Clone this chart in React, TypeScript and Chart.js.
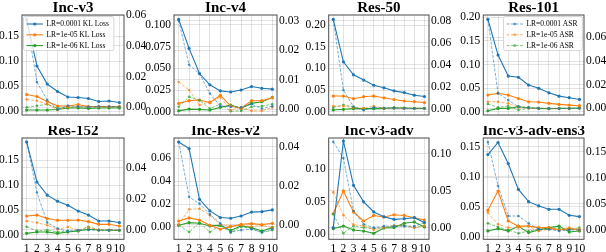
import React, { useEffect, useRef } from 'react';
import { Chart, registerables } from 'chart.js';

Chart.register(...registerables);
const SERIF = "'Liberation Serif', 'Times New Roman', Times, serif";
Chart.defaults.font.family = SERIF;
Chart.defaults.font.size = 11;
Chart.defaults.color = '#000';

// ---------- data ----------
const steps = [1, 2, 3, 4, 5, 6, 7, 8, 9, 10];
const lrNames = ['LR=0.0001', 'LR=1e-05', 'LR=1e-06'];
const titles = ['Inc-v3', 'Inc-v4', 'Res-50', 'Res-101', 'Res-152', 'Inc-Res-v2', 'Inc-v3-adv', 'Inc-v3-adv-ens3'];

// Inc-v3
const incV3KL1e4 = [0.183, 0.090, 0.054, 0.039, 0.028, 0.027, 0.025, 0.019, 0.020, 0.017];
const incV3KL1e5 = [0.033, 0.029, 0.019, 0.010, 0.010, 0.013, 0.009, 0.009, 0.009, 0.009];
const incV3KL1e6 = [0.002, 0.002, 0.002, 0.003, 0.006, 0.006, 0.005, 0.006, 0.006, 0.006];
const incV3ASR1e4 = [0.057, 0.0165, 0.0048, -0.0015, 0.001, 0.0005, 0.0003, 0.0005, 0.0005, 0.0003];
const incV3ASR1e5 = [0.0052, 0.0043, 0.002, -0.0015, 0.0, 0.0005, 0.0003, 0.0003, 0.0003, 0.0003];
const incV3ASR1e6 = [0.0, 0.001, 0.002, -0.0005, 0.0, 0.0002, 0.0, 0.0002, 0.0002, 0.0002];

// Inc-v4
const incV4KL1e4 = [0.1065, 0.073, 0.044, 0.031, 0.024, 0.0227, 0.025, 0.029, 0.027, 0.026];
const incV4KL1e5 = [0.0096, 0.0127, 0.0135, 0.0104, 0.019, 0.0065, 0.004, 0.0127, 0.0127, 0.016];
const incV4KL1e6 = [0.001, 0.003, 0.0027, 0.002, 0.005, 0.0077, 0.004, 0.0096, 0.0115, 0.0165];
const incV4ASR1e4 = [0.030, 0.015, 0.012, 0.0053, 0.001, 0.0008, 0.0006, 0.0017, 0.0002, 0.001];
const incV4ASR1e5 = [0.0092, 0.0065, 0.0014, 0.0025, 0.004, -0.0003, 0.0006, -0.0006, -0.0006, 0.0006];
const incV4ASR1e6 = [0.0008, 0.0042, 0.003, 0.0002, 0.0017, -0.0007, -0.0006, 0.0008, 0.001, 0.0017];

// Res-50
const res50KL1e4 = [0.213, 0.115, 0.085, 0.073, 0.061, 0.055, 0.048, 0.044, 0.038, 0.035];
const res50KL1e5 = [0.036, 0.036, 0.030, 0.0346, 0.036, 0.032, 0.028, 0.0246, 0.023, 0.021];
const res50KL1e6 = [0.004, 0.0054, 0.007, 0.007, 0.007, 0.0077, 0.0085, 0.0085, 0.0077, 0.0077];
const res50ASR1e4 = [0.081, 0.0172, 0.002, -0.001, 0.0015, 0.001, 0.0008, 0.0005, 0.0005, 0.0005];
const res50ASR1e5 = [0.0027, 0.0027, 0.0012, 0.0006, 0.0027, 0.0006, 0.0006, 0.0006, 0.0006, 0.0006];
const res50ASR1e6 = [0.0015, 0.0036, 0.002, 0.0, 0.0006, 0.0006, 0.0015, 0.0009, 0.0006, 0.0006];

// Res-101
const res101KL1e4 = [0.196, 0.120, 0.0756, 0.073, 0.0565, 0.0495, 0.040, 0.033, 0.0297, 0.026];
const res101KL1e5 = [0.0353, 0.039, 0.0353, 0.028, 0.021, 0.0205, 0.0177, 0.0155, 0.014, 0.0127];
const res101KL1e6 = [0.002, 0.007, 0.007, 0.0106, 0.0085, 0.007, 0.0064, 0.007, 0.007, 0.0078];
const res101ASR1e4 = [0.0752, 0.0127, 0.007, 0.0014, 0.0006, 0.0, 0.0, -0.0002, -0.0002, 0.0];
const res101ASR1e5 = [0.0056, 0.0056, 0.0042, 0.0008, 0.0, -0.0002, -0.0002, -0.0002, 0.0, 0.0];
const res101ASR1e6 = [0.0037, 0.0008, 0.002, -0.0014, 0.0, 0.0003, 0.0, 0.0, 0.0, 0.0];

// Res-152
const res152KL1e4 = [0.187, 0.1065, 0.080, 0.068, 0.0596, 0.048, 0.040, 0.028, 0.028, 0.025];
const res152KL1e5 = [0.038, 0.040, 0.033, 0.0295, 0.0295, 0.030, 0.0268, 0.0214, 0.0214, 0.018];
const res152KL1e6 = [0.0033, 0.006, 0.006, 0.0033, 0.006, 0.008, 0.0114, 0.010, 0.0094, 0.0094];
const res152ASR1e4 = [0.0565, 0.024, 0.0047, 0.0009, -0.0009, 0.0, 0.0, -0.0002, 0.0, 0.0];
const res152ASR1e5 = [0.0058, 0.0047, 0.003, 0.0004, 0.0019, -0.0002, 0.0015, 0.0, 0.0, 0.0];
const res152ASR1e6 = [0.0021, -0.0006, 0.0, -0.0013, -0.0006, -0.0006, 0.0021, 0.0, -0.0002, -0.0004];

// Inc-Res-v2
const incResKL1e4 = [0.0743, 0.0685, 0.0242, 0.014, 0.0082, 0.0076, 0.0096, 0.013, 0.0134, 0.0149];
const incResKL1e5 = [0.0052, 0.0079, 0.0061, 0.0015, -0.002, 0.0003, 0.0023, 0.0029, 0.002, 0.0032];
const incResKL1e6 = [0.0015, 0.0038, 0.0032, 0.0009, 0.0015, -0.003, 0.0009, -0.0006, -0.0035, -0.0006];
const incResASR1e4 = [0.0424, 0.0143, 0.0109, 0.0054, 0.0009, -0.0036, -0.0026, -0.0022, -0.0036, -0.0022];
const incResASR1e5 = [0.0003, 0.008, 0.0083, 0.0049, 0.0003, -0.0005, -0.0002, -0.0008, -0.0002, -0.0014];
const incResASR1e6 = [0.0, -0.0036, 0.0012, -0.0036, -0.0002, -0.0039, -0.0009, -0.0019, -0.0039, -0.0026];

// Inc-v3-adv
const advKL1e4 = [0.0103, 0.1436, 0.0754, 0.050, 0.0344, 0.027, 0.023, 0.024, 0.0256, 0.018];
const advKL1e5 = [0.032, 0.0667, 0.0344, 0.0205, 0.029, 0.0267, 0.030, 0.029, 0.0256, 0.022];
const advKL1e6 = [0.0087, 0.0128, 0.0067, 0.005, 0.0015, 0.0097, 0.0103, 0.017, 0.019, 0.0113];
const advASR1e4 = [0.116, 0.094, 0.0225, 0.0045, 0.0, 0.002, 0.002, 0.002, 0.002, 0.0068];
const advASR1e5 = [0.048, 0.0167, 0.004, 0.0023, -0.003, 0.0, 0.003, 0.0023, 0.0, 0.0023];
const advASR1e6 = [0.018, -0.0077, 0.0023, 0.0, -0.0014, 0.0, 0.0023, 0.003, 0.0, 0.0023];

// Inc-v3-adv-ens3
const ensKL1e4 = [0.137, 0.157, 0.122, 0.079, 0.0587, 0.0515, 0.046, 0.046, 0.036, 0.0338];
const ensKL1e5 = [0.0443, 0.0764, 0.0266, 0.018, 0.018, 0.0155, 0.0155, 0.0116, 0.0138, 0.0116];
const ensKL1e6 = [0.010, 0.0138, 0.010, 0.018, 0.0072, 0.0116, 0.0155, 0.018, 0.0083, 0.010];
const ensASR1e4 = [0.169, 0.0846, 0.0269, 0.0269, 0.0128, 0.0013, 0.0013, -0.002, 0.0, 0.0];
const ensASR1e5 = [0.0333, 0.0109, 0.0045, 0.0045, 0.0077, -0.002, 0.0013, 0.0, 0.0045, 0.0013];
const ensASR1e6 = [0.0128, 0.0058, 0.0, -0.0064, -0.002, 0.0013, 0.0013, 0.0026, 0.0013, 0.0045];

// tick labels
const leftTicks = [
  [0, 0.05, 0.1, 0.15], [0, 0.025, 0.05, 0.075, 0.1], [0, 0.05, 0.1, 0.15, 0.2], [0, 0.05, 0.1, 0.15, 0.2],
  [0, 0.05, 0.1, 0.15], [0, 0.02, 0.04, 0.06], [0, 0.05, 0.1], [0, 0.05, 0.1, 0.15],
];
const rightTicks = [
  [0, 0.02, 0.04, 0.06], [0, 0.01, 0.02, 0.03], [0, 0.02, 0.04, 0.06, 0.08], [0, 0.02, 0.04, 0.06],
  [0, 0.02, 0.04], [0, 0.02, 0.04], [0, 0.05, 0.1], [0, 0.05, 0.1, 0.15],
];
const leftDecimals = [2, 3, 2, 2, 2, 2, 2, 2];
const leftRanges = [
  [-0.008, 0.192], [-0.0038, 0.1115], [-0.0077, 0.2231], [-0.007, 0.205],
  [-0.0087, 0.195], [-0.0108, 0.0778], [-0.0077, 0.1482], [-0.0039, 0.1645],
];
const rightRanges = [
  [-0.005, 0.0602], [-0.002, 0.0319], [-0.0054, 0.0851], [-0.0056, 0.0789],
  [-0.006, 0.059], [-0.0073, 0.0444], [-0.0158, 0.1212], [-0.0179, 0.1769],
];

const klSeries = [
  [incV3KL1e4, incV3KL1e5, incV3KL1e6], [incV4KL1e4, incV4KL1e5, incV4KL1e6],
  [res50KL1e4, res50KL1e5, res50KL1e6], [res101KL1e4, res101KL1e5, res101KL1e6],
  [res152KL1e4, res152KL1e5, res152KL1e6], [incResKL1e4, incResKL1e5, incResKL1e6],
  [advKL1e4, advKL1e5, advKL1e6], [ensKL1e4, ensKL1e5, ensKL1e6],
];
const asrSeries = [
  [incV3ASR1e4, incV3ASR1e5, incV3ASR1e6], [incV4ASR1e4, incV4ASR1e5, incV4ASR1e6],
  [res50ASR1e4, res50ASR1e5, res50ASR1e6], [res101ASR1e4, res101ASR1e5, res101ASR1e6],
  [res152ASR1e4, res152ASR1e5, res152ASR1e6], [incResASR1e4, incResASR1e5, incResASR1e6],
  [advASR1e4, advASR1e5, advASR1e6], [ensASR1e4, ensASR1e5, ensASR1e6],
];

// ---------- layout / style ----------
const SOLID = ['#1f77b4', '#ff7f0e', '#2ca02c'];
const DASHED = ['rgba(31,119,180,0.75)', 'rgba(255,127,14,0.75)', 'rgba(44,160,44,0.75)'];
const GRID = 'rgba(0,0,0,0.11)';
const SPINE = '#4a4a4a';
const TICK_FONT = { family: SERIF, size: 11.5 };
const colL = [22, 174, 328.7, 483.3];
const colR = [124, 277, 429, 584];
const rowT = [15, 138];
const rowB = [115, 239.3];
const legendAt: Record<number, { x: number; y: number; kind: string }> = {
  0: { x: 23.5, y: 16.5, kind: 'KL Loss' },
  3: { x: 503.5, y: 16.5, kind: 'ASR' },
};

function geom(i: number) {
  const col = i % 4;
  const row = Math.floor(i / 4);
  const L = colL[col], R = colR[col], T = rowT[row], B = rowB[row];
  const cx0 = Math.max(0, Math.floor(L - 40));
  const cx1 = Math.min(606, Math.ceil(R + 34));
  const cy0 = row === 0 ? 0 : 126;
  const cy1 = cy0 + 126;
  return { row, L, R, T, B, cx0, cx1, cy0, cy1 };
}

function Panel({ idx }: { idx: number }) {
  const ref = useRef<HTMLCanvasElement>(null);
  const g = geom(idx);
  useEffect(() => {
    if (!ref.current) return;
    const datasets: any[] = [];
    for (let k = 0; k < 3; k++) {
      datasets.push({
        label: lrNames[k] + ' ASR',
        data: steps.map((x, j) => ({ x, y: asrSeries[idx][k][j] })),
        yAxisID: 'y1',
        borderColor: DASHED[k],
        backgroundColor: DASHED[k],
        borderWidth: 0.8,
        borderDash: [3, 1.5],
        pointRadius: 1.3,
        pointBorderWidth: 0,
        tension: 0,
      });
    }
    for (let k = 0; k < 3; k++) {
      datasets.push({
        label: lrNames[k] + ' KL Loss',
        data: steps.map((x, j) => ({ x, y: klSeries[idx][k][j] })),
        yAxisID: 'y',
        borderColor: SOLID[k],
        backgroundColor: SOLID[k],
        borderWidth: 1.1,
        pointRadius: 1.6,
        pointBorderWidth: 0,
        tension: 0,
      });
    }
    const leg = legendAt[idx];
    const deco = {
      id: 'deco',
      afterDatasetsDraw(chart: any) {
        const { ctx, chartArea: a } = chart;
        ctx.save();
        ctx.strokeStyle = SPINE;
        ctx.lineWidth = 1;
        ctx.strokeRect(a.left, a.top, a.right - a.left, a.bottom - a.top);
        ctx.font = 'bold 15px ' + SERIF;
        ctx.fillStyle = '#000';
        ctx.textAlign = 'center';
        ctx.textBaseline = 'alphabetic';
        ctx.fillText(titles[idx], (a.left + a.right) / 2, a.top - 3.3);
        if (leg) {
          const bx = leg.x - g.cx0, by = leg.y - g.cy0;
          ctx.font = '7.5px ' + SERIF;
          let tw = 0;
          for (let k = 0; k < 3; k++) tw = Math.max(tw, ctx.measureText(lrNames[k] + ' ' + leg.kind).width);
          const bw = 23 + tw + 5, bh = 34;
          ctx.beginPath();
          (ctx as any).roundRect(bx, by, bw, bh, 2);
          ctx.fillStyle = 'rgba(255,255,255,0.8)';
          ctx.fill();
          ctx.strokeStyle = '#cccccc';
          ctx.lineWidth = 0.8;
          ctx.stroke();
          const dashed = leg.kind === 'ASR';
          for (let k = 0; k < 3; k++) {
            const ry = by + 7.5 + k * 10.8;
            const c = dashed ? DASHED[k] : SOLID[k];
            ctx.strokeStyle = c;
            ctx.lineWidth = dashed ? 0.8 : 1.1;
            ctx.setLineDash(dashed ? [3, 1.5] : []);
            ctx.beginPath();
            ctx.moveTo(bx + 3, ry);
            ctx.lineTo(bx + 19.5, ry);
            ctx.stroke();
            ctx.setLineDash([]);
            ctx.fillStyle = c;
            ctx.beginPath();
            ctx.arc(bx + 11.25, ry, dashed ? 1.3 : 1.6, 0, Math.PI * 2);
            ctx.fill();
            ctx.fillStyle = '#000';
            ctx.textAlign = 'left';
            ctx.textBaseline = 'middle';
            ctx.fillText(lrNames[k] + ' ' + leg.kind, bx + 23, ry);
          }
        }
        ctx.restore();
      },
    };
    const dec = leftDecimals[idx];
    const chart = new Chart(ref.current, {
      type: 'line',
      data: { datasets },
      plugins: [deco],
      options: {
        animation: false,
        responsive: false,
        devicePixelRatio: 1,
        events: [],
        font: { family: SERIF },
        layout: { padding: { top: g.T - g.cy0, left: 0, right: 0, bottom: 0 } },
        plugins: { legend: { display: false }, tooltip: { enabled: false }, title: { display: false } },
        scales: {
          x: {
            type: 'linear',
            min: 0.55,
            max: 10.45,
            afterBuildTicks: (s: any) => { s.ticks = steps.map((v) => ({ value: v })); },
            afterFit: (s: any) => { s.height = g.cy1 - g.B; },
            ticks: { display: g.row === 1, padding: 3, autoSkip: false, maxRotation: 0, color: '#000', font: TICK_FONT, callback: (v: any) => String(v) },
            grid: { color: GRID, drawTicks: false },
            border: { display: false },
          },
          y: {
            type: 'linear',
            position: 'left',
            min: leftRanges[idx][0],
            max: leftRanges[idx][1],
            afterBuildTicks: (s: any) => { s.ticks = leftTicks[idx].map((v) => ({ value: v })); },
            afterFit: (s: any) => { s.width = g.L - g.cx0; },
            ticks: { padding: 3, autoSkip: false, color: '#000', font: TICK_FONT, callback: (v: any) => Number(v).toFixed(dec) },
            grid: { color: GRID, drawTicks: false },
            border: { display: false },
          },
          y1: {
            type: 'linear',
            position: 'right',
            min: rightRanges[idx][0],
            max: rightRanges[idx][1],
            afterBuildTicks: (s: any) => { s.ticks = rightTicks[idx].map((v) => ({ value: v })); },
            afterFit: (s: any) => { s.width = g.cx1 - g.R; },
            ticks: { padding: 2, autoSkip: false, color: '#000', font: TICK_FONT, callback: (v: any) => Number(v).toFixed(2) },
            grid: { color: GRID, drawTicks: false },
            border: { display: false },
          },
        },
      } as any,
    });
    return () => chart.destroy();
  }, []);
  return (
    <canvas
      ref={ref}
      width={g.cx1 - g.cx0}
      height={g.cy1 - g.cy0}
      style={{ position: 'absolute', left: g.cx0, top: g.cy0, width: g.cx1 - g.cx0, height: g.cy1 - g.cy0 }}
    />
  );
}

export default function App() {
  return (
    <div style={{ position: 'fixed', left: 0, top: 0, width: 606, height: 252, background: '#fff', overflow: 'hidden' }}>
      {titles.map((_, i) => (
        <Panel key={i} idx={i} />
      ))}
    </div>
  );
}
